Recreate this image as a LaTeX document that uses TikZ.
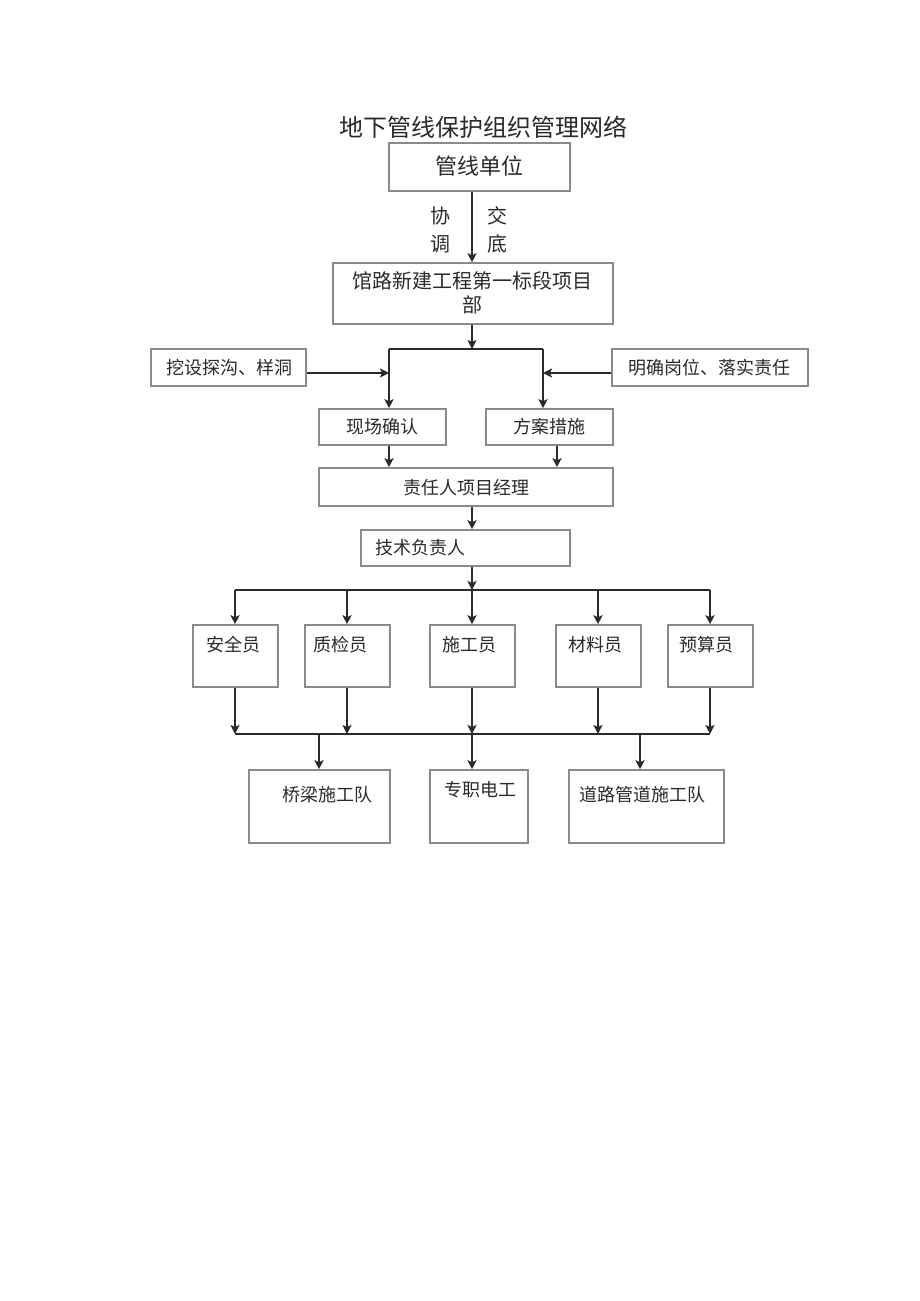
\documentclass[tikz,border=0pt]{standalone}
\usepackage{fontspec}
\setmainfont{Noto Sans CJK SC}
\usetikzlibrary{arrows.meta}
\definecolor{boxgray}{HTML}{8A8A8A}
\definecolor{ink}{HTML}{2A2A2A}
\begin{document}
\begin{tikzpicture}[x=1pt,y=-1pt,
  box/.style={draw=boxgray, line width=1.6pt, inner sep=0pt},
  txt/.style={text=ink, inner sep=0pt, font=\fontsize{18pt}{20pt}\selectfont},
  conn/.style={draw=ink, line width=1.9pt},
  arr/.style={conn, -{Stealth[length=9pt,width=9pt,inset=2pt]}}]
\useasboundingbox[fill=white] (0,0) rectangle (920,1301);
% title
\node[txt, font=\fontsize{24pt}{26pt}\selectfont] (title) at (483,127) {地下管线保护组织管理网络};
% boxes
\node[box, minimum width=181pt, minimum height=48pt] (gx) at (479.5,167) {};
\node[box, minimum width=280pt, minimum height=61pt] (xm) at (473,293.5) {};
\node[box, minimum width=155pt, minimum height=37pt] (wj) at (228.5,367.5) {};
\node[box, minimum width=196pt, minimum height=37pt] (mq) at (710,367.5) {};
\node[box, minimum width=127pt, minimum height=36pt] (xc) at (382.5,427) {};
\node[box, minimum width=127pt, minimum height=36pt] (fa) at (549.5,427) {};
\node[box, minimum width=294pt, minimum height=38pt] (zr) at (466,487) {};
\node[box, minimum width=209pt, minimum height=36pt] (js) at (465.5,548) {};
\node[box, minimum width=85pt, minimum height=62pt] (s1) at (235.5,656) {};
\node[box, minimum width=85pt, minimum height=62pt] (s2) at (347.5,656) {};
\node[box, minimum width=85pt, minimum height=62pt] (s3) at (472.5,656) {};
\node[box, minimum width=85pt, minimum height=62pt] (s4) at (598.5,656) {};
\node[box, minimum width=85pt, minimum height=62pt] (s5) at (710.5,656) {};
\node[box, minimum width=141pt, minimum height=73pt] (t1) at (319.5,806.5) {};
\node[box, minimum width=98pt, minimum height=73pt] (t2) at (479,806.5) {};
\node[box, minimum width=155pt, minimum height=73pt] (t3) at (646.5,806.5) {};
% texts
\node[txt, font=\fontsize{22pt}{24pt}\selectfont] (gxt) at (479,166) {管线单位};
\node[txt, font=\fontsize{20pt}{22pt}\selectfont] (l1) at (440,216) {协};
\node[txt, font=\fontsize{20pt}{22pt}\selectfont] (l2) at (440,244) {调};
\node[txt, font=\fontsize{20pt}{22pt}\selectfont] (l3) at (497,216) {交};
\node[txt, font=\fontsize{20pt}{22pt}\selectfont] (l4) at (497,244) {底};
\node[txt, font=\fontsize{20pt}{22pt}\selectfont] (xmt1) at (472,281) {馆路新建工程第一标段项目};
\node[txt, font=\fontsize{20pt}{22pt}\selectfont] (xmt2) at (472,305) {部};
\node[txt] (wjt) at (229,368) {挖设探沟、样洞};
\node[txt] (mqt) at (709,368) {明确岗位、落实责任};
\node[txt] (xct) at (382,427) {现场确认};
\node[txt] (fat) at (549,427) {方案措施};
\node[txt] (zrt) at (466,488) {责任人项目经理};
\node[txt, anchor=west] (jst) at (375,548) {技术负责人};
\node[txt] (s1t) at (233,645) {安全员};
\node[txt] (s2t) at (340,645) {质检员};
\node[txt] (s3t) at (469,645) {施工员};
\node[txt] (s4t) at (595,645) {材料员};
\node[txt] (s5t) at (706,645) {预算员};
\node[txt] (t1t) at (327,795) {桥梁施工队};
\node[txt] (t2t) at (480,790) {专职电工};
\node[txt] (t3t) at (642,795) {道路管道施工队};
% connector coordinates
\coordinate (c1) at (472,0);
\coordinate (j) at (472,349);
\coordinate (jl) at (389,349);
\coordinate (jr) at (543,349);
\coordinate (al) at (389,373);
\coordinate (ar) at (543,373);
\coordinate (k) at (557,0);
\coordinate (b) at (472,590);
\coordinate (b1) at (235,590);
\coordinate (b2) at (347,590);
\coordinate (b4) at (598,590);
\coordinate (b5) at (710,590);
\coordinate (m1) at (235,734);
\coordinate (m2) at (347,734);
\coordinate (m3) at (472,734);
\coordinate (m4) at (598,734);
\coordinate (m5) at (710,734);
\coordinate (n1) at (319,734);
\coordinate (n3) at (640,734);
% connectors
\draw[arr] (gx.south -| c1) -- (xm.north -| c1);
\draw[arr] (xm.south -| c1) -- (j);
\draw[conn] (jl) -- (jr);
\draw[arr] (jl) -- (xc.north -| jl);
\draw[arr] (jr) -- (fa.north -| jr);
\draw[arr] (wj.east |- al) -- (al);
\draw[arr] (mq.west |- ar) -- (ar);
\draw[arr] (xc.south -| jl) -- (zr.north -| jl);
\draw[arr] (fa.south -| k) -- (zr.north -| k);
\draw[arr] (zr.south -| c1) -- (js.north -| c1);
\draw[arr] (js.south -| b) -- (b);
\draw[conn] (b1) -- (b5);
\draw[arr] (b1) -- (s1.north -| b1);
\draw[arr] (b2) -- (s2.north -| b2);
\draw[arr] (b) -- (s3.north -| b);
\draw[arr] (b4) -- (s4.north -| b4);
\draw[arr] (b5) -- (s5.north -| b5);
\draw[arr] (s1.south -| m1) -- (m1);
\draw[arr] (s2.south -| m2) -- (m2);
\draw[arr] (s3.south -| m3) -- (m3);
\draw[arr] (s4.south -| m4) -- (m4);
\draw[arr] (s5.south -| m5) -- (m5);
\draw[conn] (m1) -- (m5);
\draw[arr] (n1) -- (t1.north -| n1);
\draw[arr] (m3) -- (t2.north -| m3);
\draw[arr] (n3) -- (t3.north -| n3);
\end{tikzpicture}
\end{document}
